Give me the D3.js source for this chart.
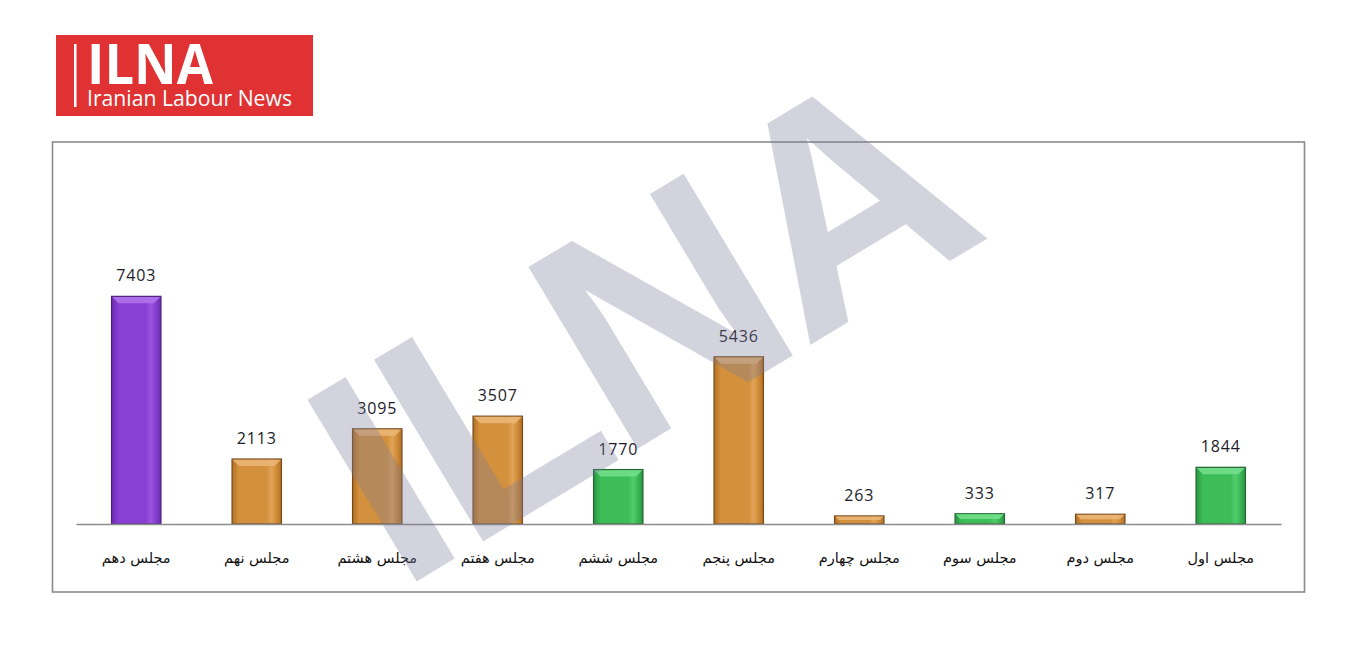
<html>
<head>
<meta charset="utf-8">
<title>ILNA chart</title>
<script src="https://d3js.org/d3.v7.min.js"></script>
<style>
  body { margin: 0; background: #ffffff; }
  svg { display: block; }
</style>
</head>
<body>
<div id="chart"></div>
<script type="text/javascript">
// data, left to right as in the picture
var majles = ["مجلس دهم", "مجلس نهم", "مجلس هشتم", "مجلس هفتم", "مجلس ششم",
              "مجلس پنجم", "مجلس چهارم", "مجلس سوم", "مجلس دوم", "مجلس اول"];
var counts = [7403, 2113, 3095, 3507, 1770, 5436, 263, 333, 317, 1844];
var tone = ["tenth", "other", "other", "other", "alt", "other", "other", "alt", "other", "alt"];

var data = majles.map(function (m, i) { return { name: m, value: counts[i], tone: tone[i] }; });

var W = 1352, H = 662;
var plot = { left: 76, right: 1281, base: 524, top: 278 };

var svg = d3.select("#chart").append("svg")
    .attr("width", W)
    .attr("height", H);

var defs = svg.append("defs");

// colours for each tone: edge, body, highlight, bevel, outline
var palette = {
    tenth: { edge: "#6b2db0", body: "#8a3fd3", hi: "#9d55e0", bevel: "#b071ea", line: "#4c1f7e" },
    other: { edge: "#b37021", body: "#d4913d", hi: "#e0a457", bevel: "#ebb675", line: "#74491b" },
    alt:   { edge: "#2c9444", body: "#3cbd58", hi: "#52cc6d", bevel: "#72de8c", line: "#226530" }
};

Object.keys(palette).forEach(function (k) {
    var p = palette[k];
    var g = defs.append("linearGradient")
        .attr("id", "grad-" + k)
        .attr("x1", "0%").attr("x2", "100%").attr("y1", "0%").attr("y2", "0%");
    g.append("stop").attr("offset", "0%").attr("stop-color", p.edge);
    g.append("stop").attr("offset", "14%").attr("stop-color", p.body);
    g.append("stop").attr("offset", "70%").attr("stop-color", p.body);
    g.append("stop").attr("offset", "80%").attr("stop-color", p.hi);
    g.append("stop").attr("offset", "88%").attr("stop-color", p.body);
    g.append("stop").attr("offset", "100%").attr("stop-color", p.edge);
});

// logo
var logo = svg.append("g");
logo.append("rect")
    .attr("x", 56).attr("y", 35)
    .attr("width", 257).attr("height", 81)
    .attr("fill", "#e03232");
logo.append("rect")
    .attr("x", 74).attr("y", 44)
    .attr("width", 2.5).attr("height", 63)
    .attr("fill", "#ffffff");
logo.append("text")
    .attr("x", 87).attr("y", 84)
    .attr("font-family", "Open Sans")
    .attr("font-weight", "bold")
    .attr("font-size", 56)
    .attr("textLength", 126)
    .attr("lengthAdjust", "spacingAndGlyphs")
    .attr("fill", "#ffffff")
    .text("ILNA");
logo.append("text")
    .attr("x", 87).attr("y", 106)
    .attr("font-family", "Open Sans")
    .attr("font-size", 21)
    .attr("textLength", 205)
    .attr("lengthAdjust", "spacingAndGlyphs")
    .attr("fill", "#ffffff")
    .text("Iranian Labour News");

// frame
svg.append("rect")
    .attr("x", 52.5).attr("y", 142)
    .attr("width", 1252).attr("height", 450)
    .attr("fill", "none")
    .attr("stroke", "#8a8a8a")
    .attr("stroke-width", 1.6);

var x = d3.scaleBand()
    .domain(majles)
    .range([plot.left, plot.right])
    .paddingInner(0.59)
    .paddingOuter(0.295);

var y = d3.scaleLinear()
    .domain([0, 8000])
    .range([plot.base, plot.top]);

var bars = svg.selectAll(".bar")
    .data(data)
    .enter()
    .append("g")
    .attr("class", "bar");

bars.append("rect")
    .attr("x", function (d) { return x(d.name); })
    .attr("y", function (d) { return y(d.value); })
    .attr("width", x.bandwidth())
    .attr("height", function (d) { return y(0) - y(d.value); })
    .attr("fill", function (d) { return "url(#grad-" + d.tone + ")"; })
    .attr("stroke", function (d) { return palette[d.tone].line; })
    .attr("stroke-width", 1.2);

// top bevel
bars.append("polygon")
    .attr("points", function (d) {
        var x0 = x(d.name), x1 = x0 + x.bandwidth(), y0 = y(d.value);
        var b = Math.min(7, (y(0) - y0) / 2);
        return [[x0 + 0.6, y0 + 0.6], [x1 - 0.6, y0 + 0.6], [x1 - b, y0 + b], [x0 + b, y0 + b]].join(" ");
    })
    .attr("fill", function (d) { return palette[d.tone].bevel; })
    .attr("opacity", 0.9);

// value labels
bars.append("text")
    .attr("x", function (d) { return x(d.name) + x.bandwidth() / 2; })
    .attr("y", function (d) { return y(d.value) - 15; })
    .attr("text-anchor", "middle")
    .attr("font-family", "Open Sans")
    .attr("font-size", 16)
    .attr("letter-spacing", 0.8)
    .attr("fill", "#1c1c2a")
    .text(function (d) { return d.value; });

// axis line with category names
var xAxis = svg.append("g")
    .attr("transform", "translate(0," + plot.base + ")")
    .call(d3.axisBottom(x).tickSize(0).tickPadding(0));
xAxis.select(".domain")
    .attr("stroke", "#8c8c8c")
    .attr("stroke-width", 1.3);
xAxis.selectAll("text")
    .attr("y", 39)
    .attr("dy", 0)
    .attr("font-family", "DejaVu Sans")
    .attr("font-size", 14.5)
    .attr("fill", "#111111");

// watermark
svg.append("text")
    .attr("transform", "translate(399,592) rotate(-31)")
    .attr("font-family", "Liberation Sans")
    .attr("font-weight", "bold")
    .attr("font-size", 308)
    .attr("letter-spacing", -8)
    .attr("fill", "#78789a")
    .attr("fill-opacity", 0.33)
    .text("ILNA");
</script>
</body>
</html>
